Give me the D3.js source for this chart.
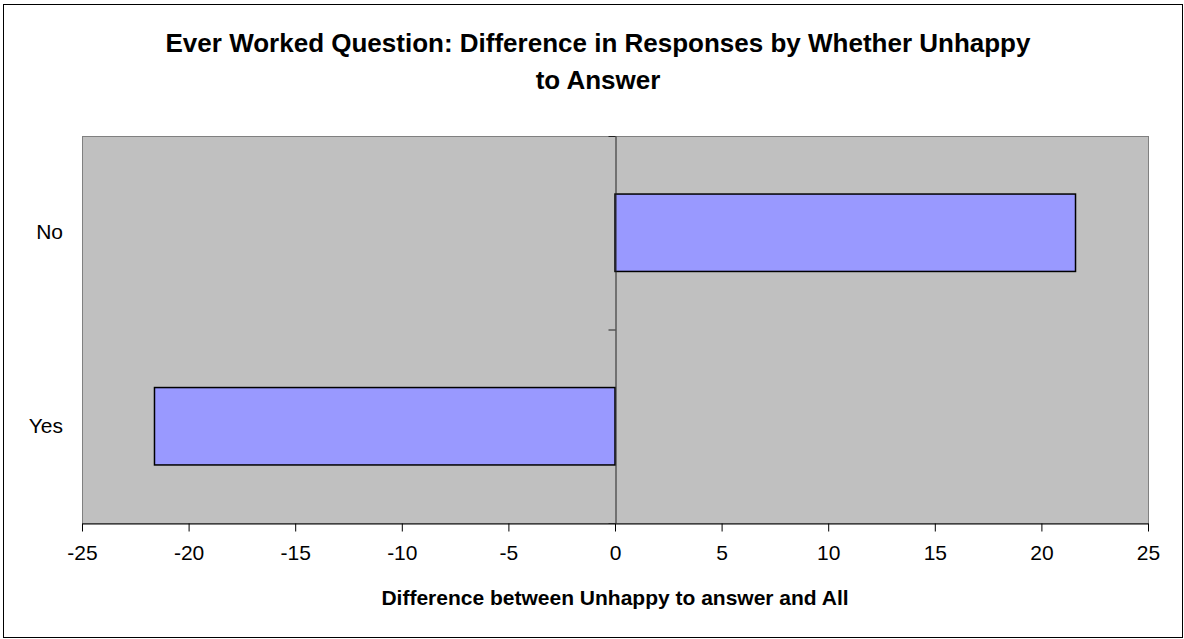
<!DOCTYPE html>
<html>
<head>
<meta charset="utf-8">
<script src="https://cdn.jsdelivr.net/npm/d3@7"></script>
<style>
  body { margin: 0; background: #fff; }
  svg { display: block; font-family: Arial, "Liberation Sans", sans-serif; }
</style>
</head>
<body>
<div id="chart"></div>
<script>
var width = 1184
var height = 639
var margin = { top: 136, right: 36, bottom: 116, left: 82 };

// data
var categories = ["No", "Yes"];
var values = [21.6, -21.6];
var xTicks = [-25, -20, -15, -10, -5, 0, 5, 10, 15, 20, 25];
var titleLines = ["Ever Worked Question: Difference in Responses by Whether Unhappy", "to Answer"];
var xTitle = "Difference between Unhappy to answer and All";

var svg = d3.select("#chart").append("svg")
    .attr("width", width)
    .attr("height", height);

// outer chart border
svg.append("rect")
    .attr("x", 3.5)
    .attr("y", 4.5)
    .attr("width", width - 5)
    .attr("height", height - 6)
    .attr("fill", "#fff")
    .attr("stroke", "#000")
    .attr("stroke-width", 1);

var xScale = d3.scaleLinear()
    .domain([-25, 25])
    .range([margin.left, width - margin.right]);

var yScale = d3.scaleBand()
    .domain(categories)
    .range([margin.top, height - margin.bottom])
    .paddingInner(0.6)
    .paddingOuter(0.3);

// boundaries between categories, for the tick marks on the zero line
var yEdges = d3.scaleLinear()
    .domain([0, categories.length])
    .range([margin.top, height - margin.bottom]);

// plot area
svg.append("rect")
    .attr("x", margin.left + 0.5)
    .attr("y", margin.top + 0.5)
    .attr("width", xScale(25) - margin.left)
    .attr("height", height - margin.bottom - margin.top)
    .attr("fill", "#c0c0c0")
    .attr("stroke", "#808080")
    .attr("stroke-width", 1);

// title
svg.append("text")
    .attr("x", 598)
    .attr("y", 52)
    .attr("text-anchor", "middle")
    .style("font-size", "26px")
    .style("font-weight", "bold")
    .selectAll("tspan")
    .data(titleLines)
    .enter().append("tspan")
    .attr("x", 598)
    .attr("dy", function(_d, i) { return i == 0 ? 0 : 37; })
    .text(function(d) { return d; });

// bars
svg.selectAll("rect.bar")
    .data(values)
    .enter().append("rect")
    .attr("class", "bar")
    .attr("x", function(d) { return xScale(Math.min(0, d)); })
    .attr("y", function(_d, i) { return yScale(categories[i]); })
    .attr("width", function(d) { return Math.abs(xScale(d) - xScale(0)); })
    .attr("height", yScale.bandwidth())
    .attr("fill", "#9999ff")
    .attr("stroke", "#000")
    .attr("stroke-width", 1.5);

// x axis
var xAxis = svg.append("g")
    .attr("transform", "translate(0," + (height - margin.bottom + 0.5) + ")")
    .call(d3.axisBottom(xScale)
        .tickValues(xTicks)
        .tickSize(8)
        .tickSizeOuter(0)
        .tickPadding(14)
        .tickFormat(function(d) { return d; }));
xAxis.select(".domain").attr("stroke", "#000");
xAxis.selectAll(".tick line").attr("stroke", "#000");
xAxis.selectAll(".tick text")
    .attr("fill", "#000")
    .style("font-size", "21px")
    .style("font-family", "Arial, 'Liberation Sans', sans-serif");

// zero line with ticks at the category boundaries
var zeroAxis = svg.append("g")
    .attr("transform", "translate(" + (xScale(0) + 0.5) + ",0)")
    .call(d3.axisLeft(yEdges)
        .tickValues([0, 1, 2])
        .tickSize(7)
        .tickSizeOuter(0)
        .tickFormat(""));
zeroAxis.select(".domain").attr("stroke", "#222");
zeroAxis.selectAll(".tick line").attr("stroke", "#222");

// category labels
svg.selectAll("text.cat")
    .data(categories)
    .enter().append("text")
    .attr("class", "cat")
    .attr("x", 63)
    .attr("y", function(d) { return yScale(d) + yScale.bandwidth() / 2; })
    .attr("dy", "0.3em")
    .attr("text-anchor", "end")
    .style("font-size", "21px")
    .text(function(d) { return d; });

// x axis title
svg.append("text")
    .attr("x", 615)
    .attr("y", 605)
    .attr("text-anchor", "middle")
    .style("font-size", "21px")
    .style("font-weight", "bold")
    .text(xTitle);
</script>
</body>
</html>
